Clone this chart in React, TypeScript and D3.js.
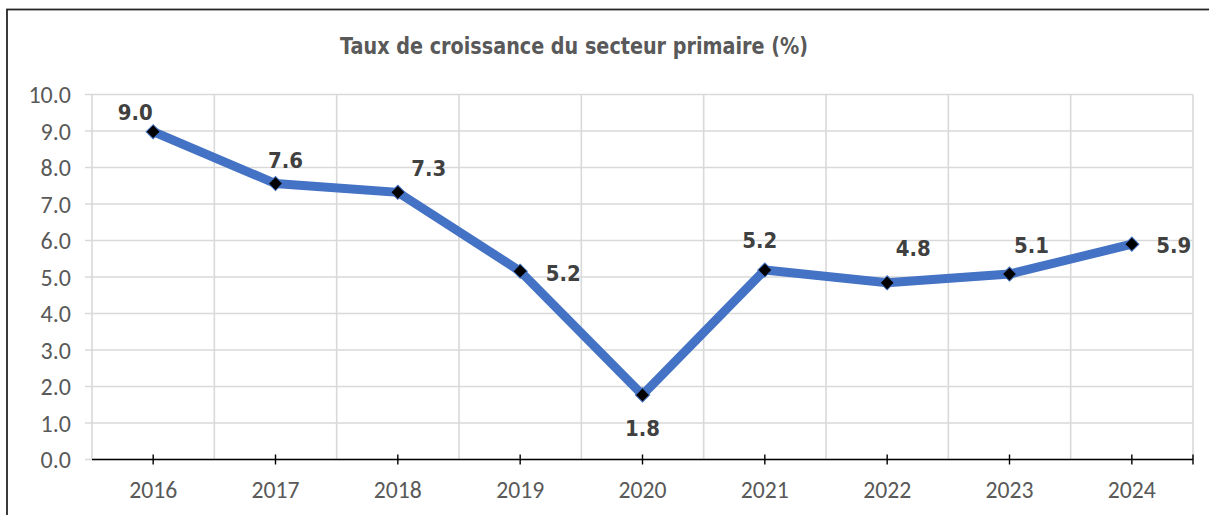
import React from "react";
import * as d3 from "d3";

const years = ["2016", "2017", "2018", "2019", "2020", "2021", "2022", "2023", "2024"];
const growth = [8.98, 7.56, 7.32, 5.16, 1.77, 5.19, 4.84, 5.08, 5.9];
const yTicks = [0, 1, 2, 3, 4, 5, 6, 7, 8, 9, 10];
const title = "Taux de croissance du secteur primaire (%)";
// label placement relative to the point (px), as Excel placed them
const labelDx = [-18, 10, 31, 43, 0, -5, 26, 22, 42];
const labelDy = [-19, -23, -24, 2, 34, -30, -34, -29, 1];

const W = 1209;
const H = 515;
const left = 92;
const right = 1193;
const top = 94.5;
const bottom = 459.5;

export default function App() {
  const x = d3.scaleBand<string>().domain(years).range([left, right]).padding(0);
  const y = d3.scaleLinear().domain([0, 10]).range([bottom, top]);
  const cx = (d: string) => (x(d) as number) + x.bandwidth() / 2;
  const fmt = d3.format(".1f");
  const pts: [number, number][] = years.map((d, i) => [cx(d), y(growth[i])]);
  const line = d3.line()(pts) as string;
  const boundaries = years.map((d) => x(d) as number).concat([right]);
  const tickColor = "#595959";

  return (
    <svg
      width={W}
      height={H}
      style={{ position: "absolute", left: 0, top: 0, background: "#fff" }}
    >
      <rect x={0} y={0} width={W} height={H} fill="#fff" />
      <rect x={7} y={9.5} width={W + 20} height={H + 20} fill="none" stroke="#262626" strokeWidth={1.8} />
      <text
        x={574}
        y={46}
        textAnchor="middle"
        dominantBaseline="central"
        fontFamily="'DejaVu Sans', Verdana, sans-serif"
        fontWeight="bold"
        fontSize={23}
        fill={tickColor}
        textLength={468}
        lengthAdjust="spacingAndGlyphs"
      >
        {title}
      </text>
      {/* horizontal gridlines */}
      {yTicks.map((t) => (
        <line key={"h" + t} x1={85} x2={right} y1={y(t)} y2={y(t)} stroke="#d9d9d9" strokeWidth={1.6} />
      ))}
      {/* vertical gridlines */}
      {boundaries.map((b, i) => (
        <line key={"v" + i} x1={b} x2={b} y1={top} y2={bottom} stroke="#d9d9d9" strokeWidth={1.6} />
      ))}
      {/* y tick labels */}
      {yTicks.map((t) => (
        <text
          key={"yl" + t}
          x={71}
          y={y(t)}
          textAnchor="end"
          dominantBaseline="central"
          fontFamily="Carlito, Calibri, Lato, sans-serif"
          fontSize={24}
          fill={tickColor}
        >
          {fmt(t)}
        </text>
      ))}
      {/* x axis */}
      <line x1={left} x2={right} y1={bottom} y2={bottom} stroke="#000" strokeWidth={1.6} />
      {years.map((d) => (
        <line key={"t" + d} x1={cx(d)} x2={cx(d)} y1={bottom - 5} y2={bottom + 5} stroke="#000" strokeWidth={1.4} />
      ))}
      <line x1={right} x2={right} y1={bottom - 5} y2={bottom + 5} stroke="#000" strokeWidth={1.4} />
      {years.map((d) => (
        <text
          key={"xl" + d}
          x={cx(d)}
          y={489}
          textAnchor="middle"
          dominantBaseline="central"
          fontFamily="Carlito, Calibri, Lato, sans-serif"
          fontSize={24}
          fill={tickColor}
          textLength={48}
          lengthAdjust="spacingAndGlyphs"
        >
          {d}
        </text>
      ))}
      {/* series line */}
      <path d={line} fill="none" stroke="#4472C4" strokeWidth={9} strokeLinejoin="miter" />
      {pts.map((p, i) => (
        <rect
          key={"m" + i}
          x={-5}
          y={-5}
          width={10}
          height={10}
          fill="#000"
          stroke="#4472C4"
          strokeWidth={1}
          transform={`translate(${p[0]},${p[1]}) rotate(45)`}
        />
      ))}
      {pts.map((p, i) => (
        <text
          key={"dl" + i}
          x={p[0] + labelDx[i]}
          y={p[1] + labelDy[i]}
          textAnchor="middle"
          dominantBaseline="central"
          fontFamily="'DejaVu Sans', Verdana, sans-serif"
          fontWeight="bold"
          fontSize={22}
          fill="#404040"
          textLength={35}
          lengthAdjust="spacingAndGlyphs"
        >
          {fmt(growth[i])}
        </text>
      ))}
    </svg>
  );
}
